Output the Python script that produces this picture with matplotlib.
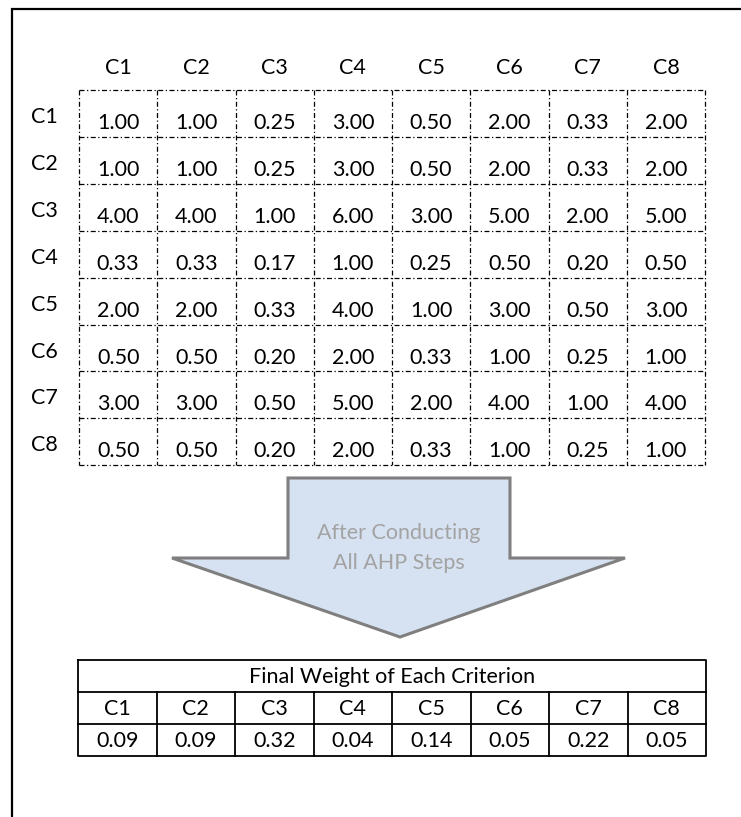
import matplotlib
matplotlib.use("Agg")
import matplotlib.pyplot as plt
from matplotlib.patches import Polygon

plt.rcParams['font.family'] = ['Lato', 'DejaVu Sans']

criteria = ["C1", "C2", "C3", "C4", "C5", "C6", "C7", "C8"]
row_c1 = [1.00, 1.00, 0.25, 3.00, 0.50, 2.00, 0.33, 2.00]
row_c2 = [1.00, 1.00, 0.25, 3.00, 0.50, 2.00, 0.33, 2.00]
row_c3 = [4.00, 4.00, 1.00, 6.00, 3.00, 5.00, 2.00, 5.00]
row_c4 = [0.33, 0.33, 0.17, 1.00, 0.25, 0.50, 0.20, 0.50]
row_c5 = [2.00, 2.00, 0.33, 4.00, 1.00, 3.00, 0.50, 3.00]
row_c6 = [0.50, 0.50, 0.20, 2.00, 0.33, 1.00, 0.25, 1.00]
row_c7 = [3.00, 3.00, 0.50, 5.00, 2.00, 4.00, 1.00, 4.00]
row_c8 = [0.50, 0.50, 0.20, 2.00, 0.33, 1.00, 0.25, 1.00]
weights = [0.09, 0.09, 0.32, 0.04, 0.14, 0.05, 0.22, 0.05]
matrix = [row_c1, row_c2, row_c3, row_c4, row_c5, row_c6, row_c7, row_c8]
arrow_text = "After Conducting\nAll AHP Steps"
weight_title = "Final Weight of Each Criterion"

W, H = 741, 817
fig = plt.figure(figsize=(W / 100, H / 100), dpi=100)
ax = fig.add_axes([0, 0, 1, 1])
ax.set_xlim(0, W)
ax.set_ylim(H, 0)
ax.axis('off')

# outer frame (left and top)
ax.plot([12, 12, W + 5], [H + 5, 9, 9], color='black', lw=1.6, solid_joinstyle='miter')

# comparison matrix
x0, x1 = 79, 705
y0 = 90
cw = (x1 - x0) / 8
rh = 46.9
n = len(criteria)
ls = (0, (4, 2, 1, 2))
for i in range(n + 1):
    ax.plot([x0 + i * cw] * 2, [y0, y0 + n * rh], color='black', lw=0.9, linestyle=ls)
    ax.plot([x0, x1], [y0 + i * rh] * 2, color='black', lw=0.9, linestyle=ls)
fs = 15.5
tc = '#000000'
for j, c in enumerate(criteria):
    ax.text(x0 + (j + 0.5) * cw, 68, c, ha='center', va='center', fontsize=fs, color=tc)
for i, c in enumerate(criteria):
    ax.text(44, y0 + i * rh + 27, c, ha='center', va='center', fontsize=fs, color=tc)
    for j, v in enumerate(matrix[i]):
        ax.text(x0 + (j + 0.5) * cw, y0 + i * rh + 33, f"{v:.2f}", ha='center', va='center',
                fontsize=fs, color=tc)

# arrow
arrow_pts = [(288, 478), (510, 478), (510, 558), (625, 558), (400, 637), (172, 558), (288, 558)]
ax.add_patch(Polygon(arrow_pts, closed=True, facecolor='#D6E2F1', edgecolor='#7F7F7F', lw=2.2,
                     joinstyle='miter'))
ax.text(399, 548, arrow_text, ha='center', va='center', fontsize=15.5, color='#A3A3A3',
        linespacing=1.6)

# weights table
tx0, tx1 = 78, 706
ty = [660, 692, 724, 756]
tcw = (tx1 - tx0) / 8
ax.plot([tx0, tx1, tx1, tx0, tx0], [ty[0], ty[0], ty[3], ty[3], ty[0]], color='black', lw=1.3)
ax.plot([tx0, tx1], [ty[1]] * 2, color='black', lw=1.3)
ax.plot([tx0, tx1], [ty[2]] * 2, color='black', lw=1.3)
for j in range(1, 8):
    ax.plot([tx0 + j * tcw] * 2, [ty[1], ty[3]], color='black', lw=1.3)
ax.text((tx0 + tx1) / 2, (ty[0] + ty[1]) / 2 + 1, weight_title, ha='center', va='center',
        fontsize=fs, color=tc)
for j, c in enumerate(criteria):
    ax.text(tx0 + (j + 0.5) * tcw, (ty[1] + ty[2]) / 2 + 1, c, ha='center', va='center',
            fontsize=fs, color=tc)
    ax.text(tx0 + (j + 0.5) * tcw, (ty[2] + ty[3]) / 2 + 1, f"{weights[j]:.2f}", ha='center',
            va='center', fontsize=fs, color=tc)

fig.savefig("out.png", dpi=100, facecolor='white')
